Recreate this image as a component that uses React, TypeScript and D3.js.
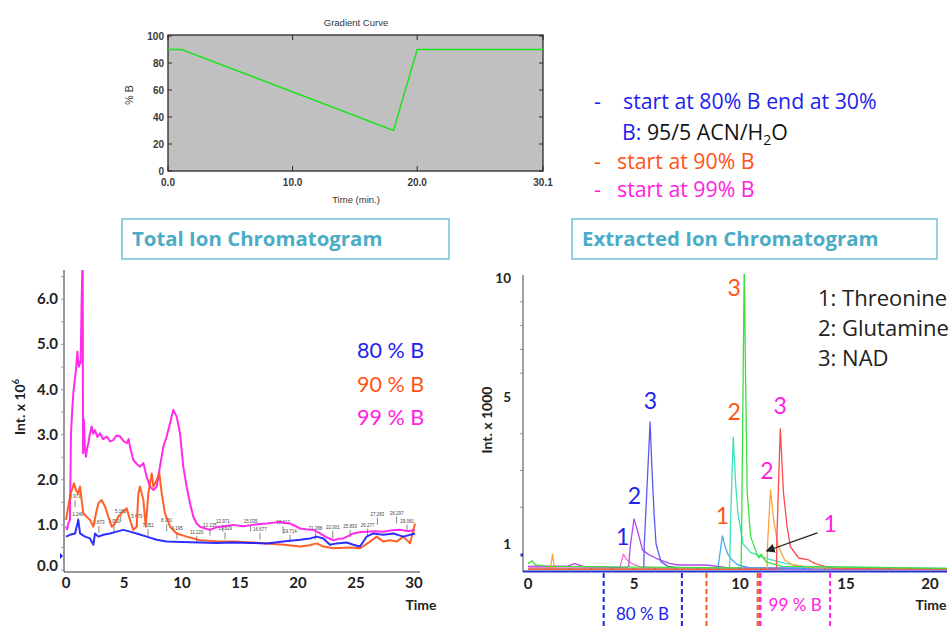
import React from 'react';
import * as d3 from 'd3';

// gradient program (% B over time)
const gradTime = [0, 1.1, 18.1, 20, 30.1];
const gradB = [90, 90, 30, 90, 90];
const gradXTicks = [0, 10, 20, 30.1];
const gradYTicks = [0, 20, 40, 60, 80, 100];

// total ion chromatogram, [time, intensity x 1e6]
const tic99: [number, number][] = [
  [0, 0.96], [0.1, 0.9], [0.2, 1.03], [0.34, 1.11], [0.43, 3.03], [0.55, 3.6], [0.63, 3.91], [0.75, 4.2], [0.86, 4.43],
  [0.98, 4.84], [1.05, 4.6], [1.12, 4.51], [1.2, 4.62], [1.26, 4.58], [1.35, 5.98], [1.41, 6.7], [1.44, 6.7],
  [1.47, 2.59], [1.55, 3.33], [1.62, 2.7], [1.72, 2.51], [1.82, 2.7], [1.93, 2.81], [2.05, 3.0], [2.21, 3.18],
  [2.35, 3.02], [2.5, 3.1], [2.7, 2.95], [2.93, 3.03], [3.2, 2.9], [3.51, 2.96], [3.8, 2.85], [4.08, 2.88],
  [4.35, 2.98], [4.66, 2.96], [4.95, 2.86], [5.23, 2.81], [5.4, 2.9], [5.52, 2.73], [5.8, 2.44], [6.1, 2.35],
  [6.38, 2.29], [6.67, 2.37], [6.95, 2.07], [7.24, 1.85], [7.53, 1.77], [7.82, 1.85], [8.1, 2.29], [8.39, 2.73],
  [8.68, 2.96], [8.97, 3.25], [9.25, 3.55], [9.54, 3.4], [9.83, 3.03], [10.11, 2.29], [10.4, 1.85],
  [10.69, 1.48], [10.98, 1.18], [11.26, 1.03], [11.55, 0.96], [12.0, 0.92], [12.41, 0.89], [12.9, 0.94],
  [13.28, 0.96], [13.9, 0.98], [14.43, 1.0], [15.3, 0.97], [16.15, 1.0], [16.7, 1.02], [17.3, 1.03],
  [17.9, 1.05], [18.45, 1.07], [18.9, 1.04], [19.31, 1.03], [19.8, 0.97], [20.17, 0.92], [20.8, 0.9],
  [21.32, 0.89], [21.9, 0.81], [22.5, 0.72], [23.05, 0.66], [23.5, 0.69], [23.91, 0.7], [24.4, 0.76],
  [24.77, 0.81], [25.4, 0.84], [25.92, 0.85], [26.6, 0.86], [27.36, 0.85], [28.1, 0.88], [28.79, 0.89],
  [29.5, 0.86], [30.09, 0.89],
];
const tic90: [number, number][] = [
  [0, 1.11], [0.2, 1.41], [0.4, 1.7], [0.55, 1.8], [0.69, 1.92], [0.86, 1.77], [1.06, 1.7], [1.21, 1.85],
  [1.35, 1.55], [1.49, 1.26], [1.78, 1.18], [2.07, 1.11], [2.36, 0.96], [2.59, 1.26], [2.79, 1.48],
  [3.07, 1.55], [3.36, 1.41], [3.65, 1.18], [3.94, 0.96], [4.22, 1.03], [4.51, 1.18], [4.8, 1.26],
  [5.23, 1.37], [5.52, 1.11], [5.8, 0.89], [6.09, 0.96], [6.24, 1.7], [6.38, 1.85], [6.67, 1.55],
  [6.87, 0.96], [7.1, 1.7], [7.39, 2.14], [7.53, 1.85], [7.82, 1.99], [8.05, 2.14], [8.25, 1.7],
  [8.53, 1.26], [8.97, 0.96], [9.54, 0.81], [10.4, 0.74], [11.55, 0.66], [13.0, 0.64], [14.43, 0.63],
  [16.0, 0.61], [17.3, 0.59], [18.8, 0.56], [20.17, 0.52], [21.0, 0.55], [21.61, 0.59], [22.18, 0.52],
  [23.05, 0.48], [24.48, 0.5], [25.34, 0.48], [26.21, 0.63], [26.78, 0.74], [27.36, 0.63], [27.93, 0.66],
  [28.51, 0.63], [29.08, 0.74], [29.66, 0.59], [30.09, 1.03],
];
const tic80: [number, number][] = [
  [0, 0.74], [0.34, 0.78], [0.78, 0.81], [1.06, 1.11], [1.21, 0.81], [1.64, 0.74], [2.07, 0.7],
  [2.36, 0.56], [2.5, 0.81], [2.79, 0.74], [3.22, 0.78], [3.79, 0.81], [4.37, 0.85], [4.94, 0.89],
  [5.52, 0.85], [6.09, 0.81], [6.95, 0.74], [7.82, 0.67], [8.68, 0.63], [10.0, 0.62], [11.55, 0.61],
  [13.0, 0.6], [14.43, 0.61], [16.0, 0.6], [17.3, 0.59], [18.74, 0.63], [20.17, 0.67], [21.03, 0.7],
  [21.61, 0.74], [22.18, 0.7], [22.76, 0.56], [23.33, 0.59], [24.2, 0.61], [24.77, 0.56], [25.34, 0.52],
  [25.92, 0.74], [26.49, 0.81], [27.36, 0.78], [28.22, 0.81], [29.08, 0.74], [30.09, 0.81],
];
// retention time annotations as printed on the trace: text, time where it sits, level
const ticPeakLabels = ['0.979', '1.246', '2.873', '3.990', '5.180', '5.679', '7.051', '8.381', '9.195',
  '11.220', '12.135', '12.971', '13.829', '15.035', '16.677', '18.012', '19.714', '21.288', '22.001',
  '25.893', '26.277', '27.283', '28.297', '29.081'];
const ticPeakPos = [0.78, 1.03, 2.84, 4.14, 4.72, 6.12, 7.07, 8.68, 9.57, 11.27, 12.41, 13.53, 13.71,
  15.92, 16.72, 18.71, 19.31, 21.5, 23.0, 24.5, 26.0, 26.85, 28.5, 29.4];
const ticPeakLevels = [1.59, 1.2, 1.02, 1.05, 1.26, 1.15, 0.95, 1.06, 0.88, 0.8, 0.96, 1.05, 0.88, 1.05,
  0.87, 1.01, 0.83, 0.88, 0.91, 0.93, 0.96, 1.2, 1.23, 1.05];
const ticLegend = ['80 % B', '90 % B', '99 % B'];

// extracted ion chromatograms, [time, intensity x 1000]
const eicPink: [number, number][] = [[0, 0.15], [2, 0.18], [4.2, 0.12], [4.35, 0.2], [4.5, 0.64], [4.65, 0.45], [4.9, 0.3], [5.3, 0.18], [7, 0.12], [12, 0.1], [20.6, 0.08]];
const eicViolet: [number, number][] = [[0, 0.2], [1.9, 0.22], [2.2, 0.3], [2.6, 0.2], [4.6, 0.15], [4.75, 0.2], [4.82, 0.9], [5.0, 1.68], [5.15, 1.4], [5.4, 0.79], [5.7, 0.62], [6.04, 0.49], [6.67, 0.31], [7.1, 0.25], [8.4, 0.25], [9.5, 0.15], [20.6, 0.1]];
const eicBlue: [number, number][] = [[0, 0.1], [5.46, 0.1], [5.48, 0.9], [5.76, 4.32], [5.85, 3.0], [5.95, 1.8], [6.04, 1.0], [6.27, 0.37], [6.6, 0.2], [7.5, 0.12], [20.6, 0.1]];
const eicSky: [number, number][] = [[0, 0.1], [8.9, 0.1], [8.97, 0.2], [9.17, 1.22], [9.3, 0.9], [9.45, 0.6], [9.6, 0.45], [9.9, 0.25], [10.5, 0.15], [20.6, 0.1]];
const eicCyan: [number, number][] = [[0, 0.12], [9.5, 0.12], [9.52, 0.4], [9.55, 1.5], [9.68, 3.91], [9.8, 2.6], [9.9, 1.84], [10.15, 1.0], [10.5, 0.7], [11.0, 0.55], [11.4, 0.45], [12.2, 0.3], [13, 0.2], [20.6, 0.12]];
const eicGreen: [number, number][] = [[0, 0.3], [0.2, 0.4], [0.35, 0.25], [1, 0.2], [10.05, 0.15], [10.08, 1.5], [10.15, 6], [10.2, 10.5], [10.26, 6], [10.34, 2.39], [10.5, 1.2], [10.8, 0.64], [10.9, 0.5], [11.0, 0.64], [11.1, 0.5], [11.25, 0.35], [12, 0.2], [20.6, 0.12]];
const eicOrange: [number, number][] = [[0, 0.1], [1.05, 0.1], [1.16, 0.64], [1.25, 0.1], [11.28, 0.1], [11.3, 1.0], [11.44, 2.47], [11.6, 1.6], [11.8, 0.93], [12.1, 0.43], [12.5, 0.25], [13.5, 0.15], [20.6, 0.1]];
const eicRed: [number, number][] = [[0, 0.1], [11.72, 0.1], [11.74, 1.2], [11.9, 4.13], [12.05, 2.4], [12.22, 1.47], [12.38, 0.9], [12.77, 0.5], [13.24, 0.43], [13.55, 0.3], [14.0, 0.2], [14.5, 0.12], [20.6, 0.1]];
const eicYTicks = [1, 5, 10];
const eicXTicks = [0, 5, 10, 15, 20];
// peak numbers: [label, time, height, group]
const eicPeakNums: [string, number, number, number][] = [
  ['1', 4.47, 1.2, 0], ['2', 5.02, 2.3, 0], ['3', 5.77, 4.9, 0],
  ['1', 9.17, 1.75, 1], ['2', 9.72, 4.6, 1], ['3', 9.72, 9.6, 1],
  ['1', 14.25, 1.55, 2], ['2', 11.27, 3.0, 2], ['3', 11.9, 4.75, 2],
];
const eicCompounds = ['1: Threonine', '2: Glutamine', '3: NAD'];
// elution windows below axis
const eicWindows: [number, number, number][] = [[3.57, 7.26, 0], [8.42, 10.88, 1], [10.97, 14.25, 2]];

const BLUE = '#2222ee';
const ORANGE = '#ff5418';
const MAGENTA = '#ff22e0';
const groupColors = [BLUE, ORANGE, MAGENTA];
const font = 'Lato, "Open Sans", sans-serif';
const wide = '"Open Sans", Lato, sans-serif';

function GradientChart() {
  const x = d3.scaleLinear().domain([0, 30.1]).range([168, 543]);
  const y = d3.scaleLinear().domain([0, 100]).range([171, 36]);
  const line = d3.line<number>().x((d, i) => x(gradTime[i])).y((d) => y(d));
  const f = '"Liberation Sans", Arial, sans-serif';
  return (
    <g>
      <text x={356} y={26} textAnchor="middle" fontFamily={f} fontSize={9.5} fill="#333">Gradient Curve</text>
      <rect x={168} y={35} width={375} height={136} fill="#c0c0c0" stroke="#2a2a2a" strokeWidth={1.3} />
      {gradYTicks.map((t) => (
        <g key={'gy' + t}>
          <line x1={168} x2={172} y1={y(t)} y2={y(t)} stroke="#2a2a2a" />
          <line x1={539} x2={543} y1={y(t)} y2={y(t)} stroke="#2a2a2a" />
          <text x={164} y={y(t) + 3.5} textAnchor="end" fontFamily={f} fontWeight="bold" fontSize={10} fill="#3a3a3a">{t}</text>
        </g>
      ))}
      {gradXTicks.map((t) => (
        <g key={'gx' + t}>
          <line x1={x(t)} x2={x(t)} y1={171} y2={166} stroke="#2a2a2a" />
          <line x1={x(t)} x2={x(t)} y1={35} y2={40} stroke="#2a2a2a" />
          <text x={x(t)} y={186} textAnchor="middle" fontFamily={f} fontWeight="bold" fontSize={10} fill="#3a3a3a">{t.toFixed(1)}</text>
        </g>
      ))}
      <path d={line(gradB) || ''} fill="none" stroke="#22e022" strokeWidth={1.5} />
      <text x={356} y={203} textAnchor="middle" fontFamily={f} fontSize={9.5} fill="#333">Time (min.)</text>
      <text transform="translate(133,95) rotate(-90)" textAnchor="middle" fontFamily={f} fontSize={10.5} fill="#333">% B</text>
    </g>
  );
}

function NotesBlock() {
  return (
    <g fontFamily={wide} fontSize={21.3}>
      <text x={594} y={109} fill={BLUE}>-</text>
      <text x={623} y={109} fill={BLUE}>start at 80% B end at 30%</text>
      <text x={622} y={140}>
        <tspan fill={BLUE}>B:</tspan>
        <tspan fill="#111"> 95/5 ACN/H</tspan>
        <tspan fill="#111" fontSize={14} dy={5}>2</tspan>
        <tspan fill="#111" dy={-5}>O</tspan>
      </text>
      <text x={594} y={169} fill={ORANGE}>-</text>
      <text x={617} y={169} fill={ORANGE}>start at 90% B</text>
      <text x={594} y={197} fill={MAGENTA}>-</text>
      <text x={617} y={197} fill={MAGENTA}>start at 99% B</text>
    </g>
  );
}

function TitleBox({ x0, x1, label }: { x0: number; x1: number; label: string }) {
  return (
    <g>
      <rect x={x0} y={219} width={x1 - x0} height={40} fill="none" stroke="#7cc4d8" strokeWidth={1.6} />
      <text x={x0 + 10} y={245.5} fontFamily={wide} fontWeight="bold" fontSize={20.4} fill="#4bacc6">{label}</text>
    </g>
  );
}

function TicChart() {
  const x = d3.scaleLinear().domain([0, 30]).range([66, 414]);
  const y = d3.scaleLinear().domain([0, 6]).range([570, 299.3]);
  const line = d3.line<[number, number]>().x((d) => x(d[0])).y((d) => y(d[1]));
  const series: [[number, number][], string][] = [[tic99, '#ff14e6'], [tic90, '#ff5012'], [tic80, '#1818ff']];
  return (
    <g>
      <defs>
        <clipPath id="ticClip"><rect x={64} y={270} width={358} height={302} /></clipPath>
      </defs>
      {ticPeakLabels.map((l, i) => {
        const px = x(ticPeakPos[i]);
        const py = y(ticPeakLevels[i]);
        return (
          <g key={'pl' + i}>
            <line x1={px} x2={px} y1={py + 2} y2={py + 9} stroke="#555" strokeWidth={0.7} />
            <text x={px} y={py} textAnchor="middle" fontFamily="Arial, sans-serif" fontSize={4.5} fill="#444">{l}</text>
          </g>
        );
      })}
      <g clipPath="url(#ticClip)">
        {series.map(([d, c], i) => (
          <path key={'ts' + i} d={line(d) || ''} fill="none" stroke={c} strokeWidth={2} strokeLinejoin="round" opacity={0.9} />
        ))}
      </g>
      <line x1={64} x2={64} y1={270} y2={572} stroke="#333" strokeWidth={1} />
      <line x1={64} x2={420} y1={572} y2={572} stroke="#333" strokeWidth={1} />
      <path d="M60,553 L63,556 L60,559 Z" fill="#1818ff" />
      {d3.range(0, 6.6, 0.5).map((v) => (
        <line key={'ym' + v} x1={61} x2={64} y1={y(v)} y2={y(v)} stroke="#888" strokeWidth={0.8} />
      ))}
      {d3.range(0, 7, 1).map((v) => (
        <text key={'yl' + v} x={58} y={y(v) + 5 - (v === 0 ? 4 : 0)} textAnchor="end" fontFamily={font} fontWeight="bold" fontSize={15} fill="#222">{v.toFixed(1)}</text>
      ))}
      {d3.range(0, 31, 5).map((v) => (
        <text key={'xl' + v} x={x(v)} y={588} textAnchor="middle" fontFamily={font} fontWeight="bold" fontSize={15} fill="#222">{v}</text>
      ))}
      <text x={421} y={610} textAnchor="middle" fontFamily={font} fontWeight="bold" fontSize={14} fill="#222">Time</text>
      <text transform="translate(25,407) rotate(-90)" textAnchor="middle" fontFamily={font} fontWeight="bold" fontSize={14} fill="#222">
        Int. x 10<tspan fontSize={9} dy={-6}>6</tspan>
      </text>
      {ticLegend.map((l, i) => (
        <text key={'lg' + i} x={357} y={358 + i * 33.5} fontFamily={font} fontSize={21.5} fill={groupColors[i]}>{l}</text>
      ))}
    </g>
  );
}

function EicChart() {
  const x = d3.scaleLinear().domain([0, 15]).range([528, 846]);
  const y = d3.scaleLinear().domain([0, 1, 5, 10]).range([572, 544, 397, 278]);
  const line = d3.line<[number, number]>().x((d) => x(d[0])).y((d) => y(d[1]));
  const series: [[number, number][], string][] = [
    [eicPink, '#ff6ad8'], [eicViolet, '#b048f0'], [eicBlue, '#5a5af0'], [eicSky, '#48aaf0'],
    [eicCyan, '#40e0b8'], [eicOrange, '#ffa23a'], [eicRed, '#ff4a4a'], [eicGreen, '#3ee03e'],
  ];
  return (
    <g>
      <defs>
        <clipPath id="eicClip"><rect x={523} y={274} width={424} height={298} /></clipPath>
        <marker id="arrowHead" viewBox="0 0 10 10" refX={9} refY={5} markerWidth={7} markerHeight={7} orient="auto">
          <path d="M0,0 L10,5 L0,10 Z" fill="#222" />
        </marker>
      </defs>
      <g clipPath="url(#eicClip)">
        {series.map(([d, c], i) => (
          <path key={'es' + i} d={line(d) || ''} fill="none" stroke={c} strokeWidth={1.3} strokeLinejoin="round" />
        ))}
      </g>
      <line x1={523} x2={523} y1={275} y2={572} stroke="#444" strokeWidth={1} />
      <line x1={523} x2={947} y1={571.5} y2={571.5} stroke="#2030c8" strokeWidth={2} />
      <rect x={520.5} y={553.5} width={2.5} height={3} fill="#2030c8" />
      {[2, 3, 4, 6, 7, 8, 9].map((v) => (
        <line key={'em' + v} x1={520} x2={523} y1={y(v)} y2={y(v)} stroke="#777" strokeWidth={0.8} />
      ))}
      {d3.range(1, 21, 1).map((v) => (
        <line key={'ex' + v} x1={x(v)} x2={x(v)} y1={572} y2={568} stroke="#777" strokeWidth={0.8} />
      ))}
      {eicYTicks.map((v) => (
        <text key={'ey' + v} x={511} y={y(v) + 5} textAnchor="end" fontFamily={font} fontWeight="bold" fontSize={13.5} fill="#222">{v}</text>
      ))}
      {eicXTicks.map((v) => (
        <text key={'exl' + v} x={Math.min(x(v), 930)} y={589} textAnchor="middle" fontFamily={font} fontWeight="bold" fontSize={15} fill="#222">{v}</text>
      ))}
      <text x={931} y={610} textAnchor="middle" fontFamily={font} fontWeight="bold" fontSize={14} fill="#222">Time</text>
      <text transform="translate(492,420) rotate(-90)" textAnchor="middle" fontFamily={font} fontWeight="bold" fontSize={14} fill="#222">Int. x 1000</text>
      {eicPeakNums.map(([l, t, v, g], i) => (
        <text key={'pn' + i} x={x(t)} y={y(v) + 8} textAnchor="middle" fontFamily={font} fontSize={23} fill={groupColors[g]}>{l}</text>
      ))}
      <line x1={x(13.65)} y1={y(1.3)} x2={x(11.25)} y2={y(0.75)} stroke="#222" strokeWidth={1.3} markerEnd="url(#arrowHead)" />
      {eicCompounds.map((l, i) => (
        <text key={'cp' + i} x={818} y={306 + i * 30} fontFamily={wide} fontSize={22} fill="#222">{l}</text>
      ))}
      {eicWindows.map(([a, b, g], i) => {
        const c = groupColors[g];
        const xs = g === 1 ? [x(a), x(b) - 1, x(b) + 1] : [x(a), x(b)];
        return (
          <g key={'w' + i}>
            {xs.map((xx, j) => (
              <line key={j} x1={xx} x2={xx} y1={573} y2={627} stroke={c} strokeWidth={2} strokeDasharray="5,3" />
            ))}
          </g>
        );
      })}
      <text x={x(5.4)} y={620} textAnchor="middle" fontFamily={font} fontSize={17} fill={BLUE}>80 % B</text>
      <text x={x(12.6)} y={611} textAnchor="middle" fontFamily={font} fontSize={17} fill={MAGENTA}>99 % B</text>
    </g>
  );
}

export default function App() {
  return (
    <svg width={950} height={627} style={{ position: 'absolute', left: 0, top: 0, background: '#fff' }}>
      <GradientChart />
      <NotesBlock />
      <TitleBox x0={122} x1={449} label="Total Ion Chromatogram" />
      <TitleBox x0={572} x1={937} label="Extracted Ion Chromatogram" />
      <TicChart />
      <EicChart />
    </svg>
  );
}
